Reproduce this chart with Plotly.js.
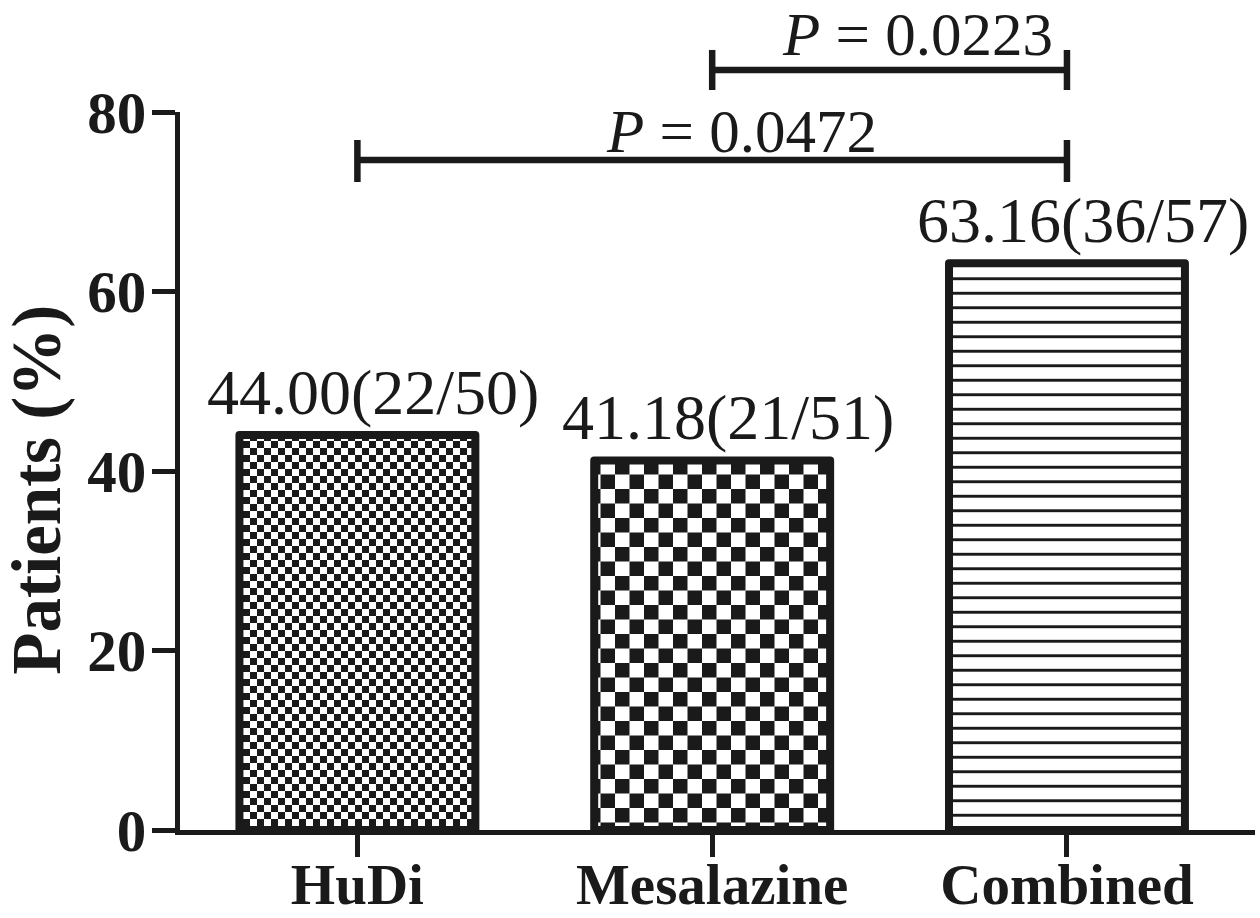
<!DOCTYPE html>
<html>
<head>
<meta charset="utf-8">
<script src="https://cdn.plot.ly/plotly-3.0.1.min.js"></script>
<style>
  html, body { margin: 0; padding: 0; background: #ffffff; }
  #chart { width: 1260px; height: 918px; }
</style>
</head>
<body>
<div id="chart"></div>
<script>
// ---- data ----
const categories = ['HuDi', 'Mesalazine', 'Combined'];
const percents = [44.00, 41.18, 63.16];
const responders = [22, 21, 36];
const totals = [50, 51, 57];
const yTickVals = [0, 20, 40, 60, 80];
const yTickText = ['0', '20', '40', '60', '80'];
const compFrom = ['Mesalazine', 'HuDi'];
const compTo = ['Combined', 'Combined'];
const compP = ['0.0223', '0.0472'];
const yTitle = 'Patients (%)';

const INK = '#1a1a1a';
const SERIF = '"Liberation Serif", "Times New Roman", serif';

const labels = percents.map((p, i) => p.toFixed(2) + '(' + responders[i] + '/' + totals[i] + ')');

const trace = {
  type: 'bar',
  x: categories,
  y: percents,
  width: 0.665,
  marker: {
    color: '#ffffff',
    line: { color: INK, width: 8 },
    pattern: {
      shape: ['', '', '-'],
      size: 14.5,
      solidity: 0.2,
      fgcolor: INK,
      bgcolor: '#ffffff',
      fillmode: 'replace'
    }
  },
  hoverinfo: 'skip'
};

// bracket geometry (paper y positions)
const bracketY = [1.0585, 0.9331];
const capLow = [1.0306, 0.9025];
const capHigh = [1.0864, 0.961];

const shapes = [];
for (let k = 0; k < compFrom.length; k++) {
  shapes.push({ type: 'line', xref: 'x', yref: 'paper', x0: compFrom[k], x1: compTo[k], y0: bracketY[k], y1: bracketY[k], line: { color: INK, width: 6.5 } });
  shapes.push({ type: 'line', xref: 'x', yref: 'paper', x0: compFrom[k], x1: compFrom[k], y0: capLow[k], y1: capHigh[k], line: { color: INK, width: 6.5 } });
  shapes.push({ type: 'line', xref: 'x', yref: 'paper', x0: compTo[k], x1: compTo[k], y0: capLow[k], y1: capHigh[k], line: { color: INK, width: 6.5 } });
}

const annotations = [];
labels.forEach((t, i) => {
  annotations.push({
    x: categories[i], y: percents[i], xref: 'x', yref: 'y',
    text: t, showarrow: false, xanchor: 'center', yanchor: 'middle',
    xshift: 16, yshift: 43,
    font: { family: SERIF, size: 64, color: INK }
  });
});
annotations.push({
  x: compTo[0], y: 1.1086, xref: 'x', yref: 'paper',
  text: '<i>P</i> = ' + compP[0], showarrow: false, xanchor: 'right', yanchor: 'middle',
  xshift: -12,
  font: { family: SERIF, size: 61, color: INK }
});
annotations.push({
  x: 'Mesalazine', y: 0.9735, xref: 'x', yref: 'paper',
  text: '<i>P</i> = ' + compP[1], showarrow: false, xanchor: 'center', yanchor: 'middle',
  xshift: 29,
  font: { family: SERIF, size: 61, color: INK }
});
// y-axis title placed to match the reference position
annotations.push({
  x: 0, y: 0.474, xref: 'paper', yref: 'paper',
  text: '<b>' + yTitle + '</b>', showarrow: false, textangle: -90,
  xanchor: 'center', yanchor: 'middle', xshift: -143,
  font: { family: SERIF, size: 69, color: INK }
});

const layout = {
  width: 1260, height: 918,
  margin: { l: 180, r: 5, t: 112, b: 88 },
  paper_bgcolor: '#ffffff', plot_bgcolor: '#ffffff',
  showlegend: false,
  xaxis: {
    type: 'category',
    range: [-0.5, 2.53],
    showline: true, linecolor: INK, linewidth: 5,
    ticks: 'outside', ticklen: 22, tickwidth: 5, tickcolor: INK,
    ticklabelstandoff: -21,
    showgrid: false, zeroline: false,
    tickfont: { family: SERIF, size: 57, color: INK, weight: 'bold' },
    fixedrange: true
  },
  yaxis: {
    range: [0, 80],
    tickvals: yTickVals, ticktext: yTickText,
    showline: true, linecolor: INK, linewidth: 5,
    ticks: 'outside', ticklen: 23, tickwidth: 5, tickcolor: INK,
    ticklabelstandoff: -6,
    showgrid: false, zeroline: false,
    tickfont: { family: SERIF, size: 59, color: INK, weight: 'bold' },
    fixedrange: true
  },
  shapes: shapes,
  annotations: annotations,
  bargap: 0.3
};

const gd = document.getElementById('chart');
Plotly.newPlot(gd, [trace], layout, { displayModeBar: false, staticPlot: true }).then(() => {
  // add checkerboard patterns for the first two bars
  const svg = gd.querySelector('svg.main-svg');
  const NS = 'http://www.w3.org/2000/svg';
  let defs = svg.querySelector('defs');
  if (!defs) { defs = document.createElementNS(NS, 'defs'); svg.insertBefore(defs, svg.firstChild); }
  function checker(id, c) {
    const p = document.createElementNS(NS, 'pattern');
    p.setAttribute('id', id);
    p.setAttribute('patternUnits', 'userSpaceOnUse');
    p.setAttribute('width', 2 * c);
    p.setAttribute('height', 2 * c);
    const bg = document.createElementNS(NS, 'rect');
    bg.setAttribute('width', 2 * c); bg.setAttribute('height', 2 * c); bg.setAttribute('fill', '#ffffff');
    p.appendChild(bg);
    [[0, 0], [c, c]].forEach(([x, y]) => {
      const r = document.createElementNS(NS, 'rect');
      r.setAttribute('x', x); r.setAttribute('y', y);
      r.setAttribute('width', c); r.setAttribute('height', c);
      r.setAttribute('fill', INK);
      p.appendChild(r);
    });
    defs.appendChild(p);
  }
  checker('chkSmall', 7);
  checker('chkLarge', 14.5);
  const paths = gd.querySelectorAll('.barlayer .point path');
  if (paths[0]) { paths[0].style.fill = 'url(#chkSmall)'; }
  if (paths[1]) { paths[1].style.fill = 'url(#chkLarge)'; }
  paths.forEach(p => { p.style.strokeLinejoin = 'round'; });
});
</script>
</body>
</html>
